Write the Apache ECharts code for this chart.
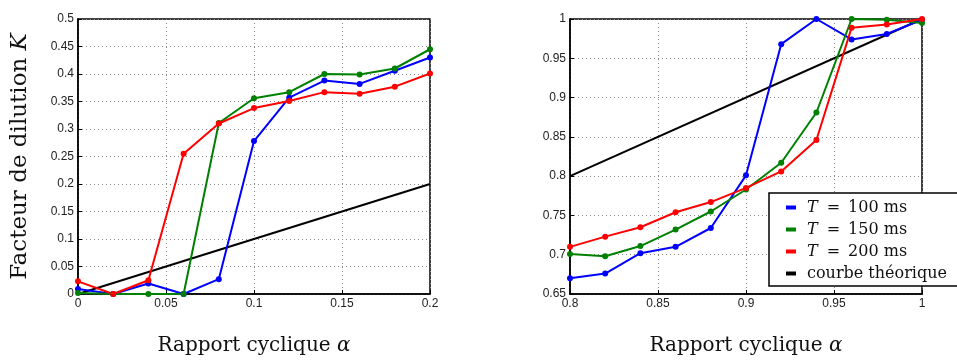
<!DOCTYPE html>
<html><head><meta charset="utf-8">
<script src="https://cdn.jsdelivr.net/npm/echarts@6/dist/echarts.min.js"></script>
<style>html,body{margin:0;padding:0;background:#fff}#c{width:957px;height:361px}</style>
</head><body><div id="c"></div>
<script>
// Left panel (low duty cycle)
const xLeft = [0, 0.02, 0.04, 0.06, 0.08, 0.1, 0.12, 0.14, 0.16, 0.18, 0.2];
const leftT100 = [0.009, 0, 0.019, 0, 0.027, 0.278, 0.357, 0.388, 0.382, 0.406, 0.430];
const leftT150 = [0.002, 0, 0, 0, 0.311, 0.356, 0.367, 0.400, 0.399, 0.410, 0.445];
const leftT200 = [0.023, 0, 0.025, 0.255, 0.310, 0.338, 0.351, 0.367, 0.364, 0.377, 0.401];
const leftTheo = [[0, 0], [0.2, 0.2]];
// Right panel (high duty cycle)
const xRight = [0.8, 0.82, 0.84, 0.86, 0.88, 0.9, 0.92, 0.94, 0.96, 0.98, 1.0];
const rightT100 = [0.670, 0.676, 0.702, 0.710, 0.734, 0.801, 0.968, 1.0, 0.974, 0.981, 0.999];
const rightT150 = [0.701, 0.698, 0.711, 0.732, 0.755, 0.783, 0.817, 0.881, 1.0, 0.999, 0.995];
const rightT200 = [0.710, 0.723, 0.735, 0.754, 0.767, 0.785, 0.806, 0.846, 0.989, 0.993, 1.0];
const rightTheo = [[0.8, 0.8], [1, 1]];
const seriesNames = ['T = 100 ms', 'T = 150 ms', 'T = 200 ms', 'courbe théorique'];
const colors = ['#0000ff', '#008000', '#ff0000', '#000000'];

const pair = (xs, ys) => xs.map((x, i) => [x, ys[i]]);
const serif = 'DejaVu Serif';
const sans = 'Liberation Sans';

function xAxisDef(idx, min, max) {
  return {
    type: 'value', gridIndex: idx, min: min, max: max, interval: 0.05,
    name: '{t|Rapport cyclique }{i|α}', nameLocation: 'middle', nameGap: 42,
    nameTextStyle: { rich: { t: { fontFamily: serif, fontSize: 20, color: '#111' }, i: { fontFamily: serif, fontStyle: 'italic', fontSize: 20, color: '#111' } } },
    axisLine: { show: true, onZero: false, lineStyle: { color: '#000', width: 1.5 } },
    axisTick: { show: true, inside: true, length: 4, lineStyle: { color: '#000' } },
    axisLabel: { fontFamily: sans, fontSize: 12, color: '#222', margin: 4 },
    splitLine: { show: true, lineStyle: { type: [1, 3], color: '#888', width: 1 } }
  };
}
function yAxisDef(idx, min, max, withName) {
  const a = {
    type: 'value', gridIndex: idx, min: min, max: max, interval: 0.05,
    axisLine: { show: true, onZero: false, lineStyle: { color: '#000', width: 1.5 } },
    axisTick: { show: true, inside: true, length: 4, lineStyle: { color: '#000' } },
    axisLabel: { fontFamily: sans, fontSize: 12, color: '#222', margin: 4 },
    splitLine: { show: true, lineStyle: { type: [1, 3], color: '#888', width: 1 } }
  };
  if (withName) {
    a.name = '{t|Facteur de dilution }{i|K}';
    a.nameLocation = 'middle';
    a.nameGap = 46;
    a.nameRotate = 90;
    a.nameTextStyle = { rich: { t: { fontFamily: serif, fontSize: 23, color: '#111' }, i: { fontFamily: serif, fontStyle: 'italic', fontSize: 23, color: '#111' } } };
  }
  return a;
}
function line(name, data, xi, color, sym) {
  return {
    type: 'line', name: name, data: data, xAxisIndex: xi, yAxisIndex: xi,
    color: color, lineStyle: { color: color, width: 2 },
    symbol: sym ? 'circle' : 'none', symbolSize: 6, showSymbol: sym,
    itemStyle: { color: color }, animation: false, z: sym ? 3 : 2
  };
}
const chart = echarts.init(document.getElementById('c'), null, { renderer: 'canvas' });
chart.setOption({
  backgroundColor: '#fff',
  animation: false,
  grid: [
    { left: 78, right: 527, top: 19, bottom: 64, show: true, borderColor: '#000', borderWidth: 1.5 },
    { left: 570, right: 35, top: 19, bottom: 64, show: true, borderColor: '#000', borderWidth: 1.5 }
  ],
  xAxis: [xAxisDef(0, 0, 0.2), xAxisDef(1, 0.8, 1)],
  yAxis: [yAxisDef(0, 0, 0.5, true), yAxisDef(1, 0.65, 1, false)],
  legend: {
    data: seriesNames, orient: 'vertical', left: 769, top: 193,
    backgroundColor: '#fff', borderColor: '#000', borderWidth: 1.5,
    padding: [6, 30, 4, 17], itemGap: 5, itemWidth: 10, itemHeight: 4, icon: 'rect',
    formatter: function (n) {
      if (n.indexOf('T = ') === 0) return '{i|T}{e|=}' + n.slice(4);
      return n;
    },
    textStyle: { fontFamily: serif, fontSize: 16, lineHeight: 17, color: '#111', padding: [0, 0, 0, 6],
      rich: { i: { fontFamily: serif, fontStyle: 'italic', fontSize: 16, color: '#111' },
              e: { fontFamily: serif, fontSize: 16, color: '#111', padding: [0, 8, 0, 9] } } }
  },
  series: [
    line(seriesNames[0], pair(xLeft, leftT100), 0, colors[0], true),
    line(seriesNames[1], pair(xLeft, leftT150), 0, colors[1], true),
    line(seriesNames[2], pair(xLeft, leftT200), 0, colors[2], true),
    line(seriesNames[3], leftTheo, 0, colors[3], false),
    line(seriesNames[0], pair(xRight, rightT100), 1, colors[0], true),
    line(seriesNames[1], pair(xRight, rightT150), 1, colors[1], true),
    line(seriesNames[2], pair(xRight, rightT200), 1, colors[2], true),
    line(seriesNames[3], rightTheo, 1, colors[3], false)
  ]
});
</script></body></html>
